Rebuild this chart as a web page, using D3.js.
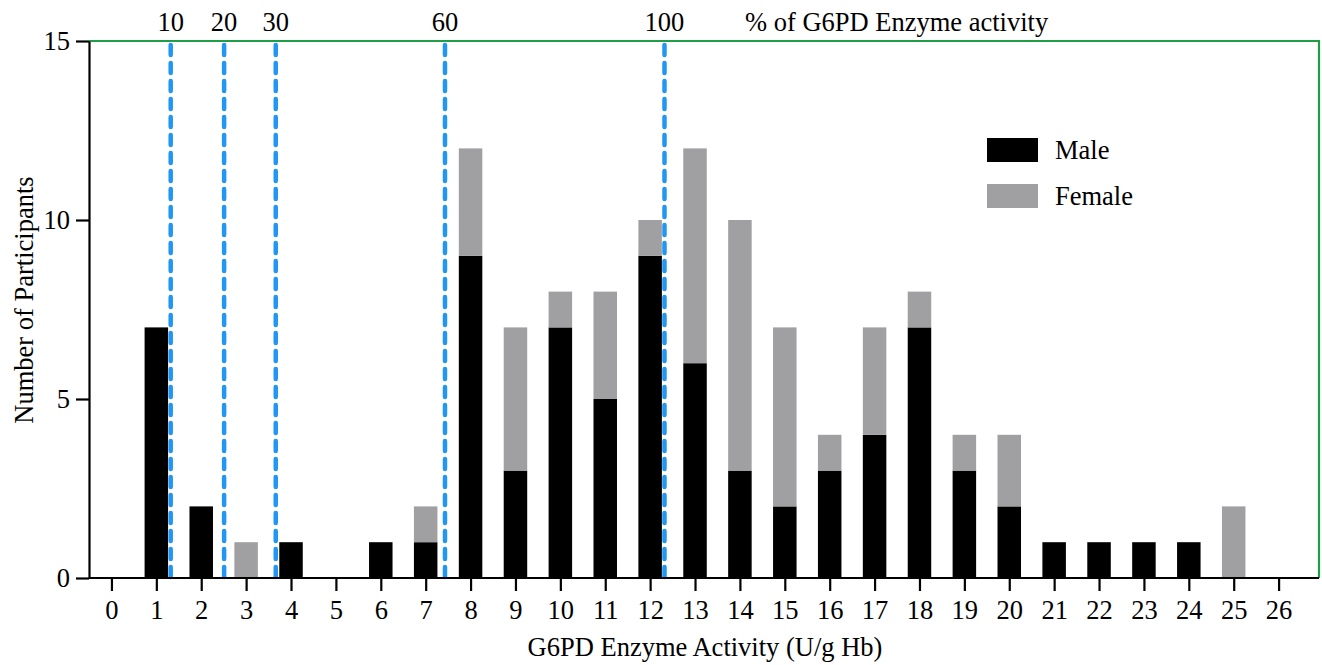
<!DOCTYPE html>
<html>
<head>
<meta charset="utf-8">
<script src="https://cdn.jsdelivr.net/npm/d3@7"></script>
<style>
  body { margin: 0; background: #fff; }
  text { font-family: "Liberation Serif", "Times New Roman", serif; fill: #000; }
</style>
</head>
<body>
<div class="chart"></div>
<script>
// G6PD activity histogram, male/female stacked

var activity = [1, 2, 3, 4, 6, 7, 8, 9, 10, 11, 12, 13, 14, 15, 16, 17, 18, 19, 20, 21, 22, 23, 24, 25];
var male     = [7, 2, 0, 1, 1, 1, 9, 3, 7, 5, 9, 6, 3, 2, 3, 4, 7, 3, 2, 1, 1, 1, 1, 0];
var female   = [0, 0, 1, 0, 0, 1, 3, 4, 1, 3, 1, 6, 7, 5, 1, 3, 1, 1, 2, 0, 0, 0, 0, 2];

var xTicks = d3.range(0, 27);
var yTicks = [0, 5, 10, 15];

// percent-of-normal reference lines, and where they sit on the U/g Hb axis
var pctLabels = [10, 20, 30, 60, 100];
var pctPos    = [1.32, 2.51, 3.66, 7.43, 12.32];

var FS = "26.5px";
var W = 1322, H = 665;
var margin = {top: 41, right: 3, bottom: 87, left: 89};

var svg = d3.select(".chart").append("svg")
    .attr("width", W).attr("height", H);

var x = d3.scaleLinear().domain([-0.5, 26.9]).range([margin.left, W - margin.right]);
var y = d3.scaleLinear().domain([0, 15]).range([H - margin.bottom, margin.top]);
var barW = 23.5;

var rows = activity.map(function(a, i) { return {a: a, m: male[i], f: female[i]}; });

// male bars
svg.append("g").selectAll("rect.m").data(rows.filter(function(d) { return d.m > 0; }))
  .enter().append("rect")
    .attr("x", function(d) { return x(d.a) - barW / 2; })
    .attr("y", function(d) { return y(d.m); })
    .attr("width", barW)
    .attr("height", function(d) { return y(0) - y(d.m); })
    .attr("fill", "#000");

// female stacked on top
svg.append("g").selectAll("rect.f").data(rows.filter(function(d) { return d.f > 0; }))
  .enter().append("rect")
    .attr("x", function(d) { return x(d.a) - barW / 2; })
    .attr("y", function(d) { return y(d.m + d.f); })
    .attr("width", barW)
    .attr("height", function(d) { return y(d.m) - y(d.m + d.f); })
    .attr("fill", "#a0a0a3");

// green frame top + right
svg.append("path")
    .attr("d", "M" + x(-0.5) + "," + y(15) + "H" + x(26.9) + "V" + y(0))
    .attr("fill", "none").attr("stroke", "#1f9e45").attr("stroke-width", 2.2);

// dashed reference lines
var g = svg.append("g");
pctLabels.forEach(function(p, i) {
  var px = x(pctPos[i]);
  g.append("line")
    .attr("x1", px).attr("x2", px)
    .attr("y1", y(15) + 4).attr("y2", y(0))
    .attr("stroke", "#2196f3").attr("stroke-width", 4.5)
    .attr("stroke-dasharray", "10,8").attr("stroke-linecap", "round");
  g.append("text").attr("x", px).attr("y", 31)
    .attr("text-anchor", "middle").style("font-size", FS).text(p);
});
svg.append("text").attr("x", 745).attr("y", 31)
  .style("font-size", FS).text("% of G6PD Enzyme activity");

// axes
var xAxis = svg.append("g")
  .attr("transform", "translate(0," + y(0) + ")")
  .call(d3.axisBottom(x).tickValues(xTicks).tickSize(13).tickPadding(9).tickSizeOuter(0));
var yAxis = svg.append("g")
  .attr("transform", "translate(" + x(-0.5) + ",0)")
  .call(d3.axisLeft(y).tickValues(yTicks).tickSize(13).tickPadding(6).tickSizeOuter(0));

[xAxis, yAxis].forEach(function(a) {
  a.select(".domain").attr("stroke", "#000").attr("stroke-width", 2.2);
  a.selectAll(".tick line").attr("stroke", "#000").attr("stroke-width", 2.2);
  a.selectAll(".tick text").style("font-size", FS)
    .style("font-family", "Liberation Serif, serif").attr("fill", "#000");
});
xAxis.select(".domain").attr("d", "M" + x(-0.5) + ",0H" + x(26.9));

svg.append("text")
  .attr("x", 705).attr("y", 656)
  .attr("text-anchor", "middle").style("font-size", FS)
  .text("G6PD Enzyme Activity (U/g Hb)");

svg.append("text")
  .attr("transform", "translate(33,300) rotate(-90)")
  .attr("text-anchor", "middle").style("font-size", FS)
  .text("Number of Participants");

// legend
var legend = [{name: "Male", c: "#000"}, {name: "Female", c: "#a0a0a3"}];
var lg = svg.append("g").attr("transform", "translate(987,138)");
legend.forEach(function(d, i) {
  lg.append("rect").attr("x", 0).attr("y", i * 46).attr("width", 51).attr("height", 24).attr("fill", d.c);
  lg.append("text").attr("x", 68).attr("y", i * 46 + 21).style("font-size", FS).text(d.name);
});
</script>
</body>
</html>
